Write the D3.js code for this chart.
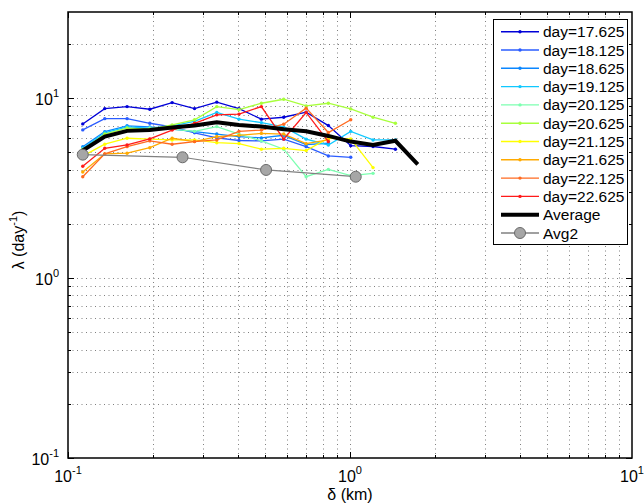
<!DOCTYPE html>
<html>
<head>
<meta charset="utf-8">
<title>lambda vs delta</title>
<script src="https://d3js.org/d3.v7.min.js"></script>
<style>
  body { margin: 0; background: #fff; }
  text { font-family: "Liberation Sans", Arial, sans-serif; }
</style>
</head>
<body>
<script>
// separations (km) shared by the daily curves
var deltas = [0.1128, 0.135, 0.162, 0.195, 0.234, 0.281, 0.337, 0.404,
              0.485, 0.582, 0.699, 0.838, 1.006, 1.207, 1.449, 1.739];

var days = ["day=17.625", "day=18.125", "day=18.625", "day=19.125", "day=20.125",
            "day=20.625", "day=21.125", "day=21.625", "day=22.125", "day=22.625"];
var dayColors = ["#0000d8", "#2a5cff", "#0a86ff", "#10c8ff", "#7cffb0",
                 "#a8ff3c", "#ffff00", "#ffaa00", "#ff6a20", "#ff1a1a"];

var d17_625 = [7.17, 8.72, 8.95, 8.65, 9.42, 8.72, 9.47, 8.72, 7.62, 7.81, 8.33, 7.02, 5.43, 5.37, 5.19];
var d18_125 = [6.64, 7.67, 7.67, 7.23, 6.90, 6.40, 6.00, 5.80, 5.77, 5.90, 5.36, 4.76, 4.68];
var d18_625 = [5.35, 6.50, 7.00, 6.90, 6.70, 6.50, 6.30, 6.10, 6.00, 6.20, 5.50, 5.60];
var d19_125 = [5.25, 6.40, 6.90, 6.80, 7.00, 7.40, 8.30, 7.62, 7.29, 6.90, 5.90, 5.48, 6.52, 5.84, 5.84];
var d20_125 = [5.20, 6.20, 6.60, 6.80, 6.70, 6.52, 6.93, 6.30, 5.77, 5.19, 3.65, 4.01, 3.70, 3.81];
var d20_625 = [5.15, 6.30, 6.80, 6.70, 7.08, 7.56, 8.95, 8.60, 9.34, 9.83, 9.03, 9.34, 8.69, 7.81, 7.23];
var d21_125 = [4.75, 5.53, 5.97, 5.90, 5.84, 5.84, 5.64, 5.58, 5.19, 5.25, 5.10, 5.97, 5.92, 4.10];
var d21_625 = [3.88, 4.89, 4.93, 5.29, 5.97, 5.72, 6.10, 6.20, 6.35, 6.30, 5.57, 5.84];
var d22_125 = [3.65, 4.89, 5.36, 5.77, 5.53, 5.72, 5.84, 6.52, 6.63, 7.14, 8.77, 6.42, 7.56];
var d22_625 = [4.17, 5.25, 5.48, 5.92, 6.63, 7.23, 8.05, 8.13, 8.95, 5.90, 8.30, 5.72];
var daySeries = [d17_625, d18_125, d18_625, d19_125, d20_125, d20_625, d21_125, d21_625, d22_125, d22_625];

var average = [5.10, 6.10, 6.56, 6.63, 6.84, 7.03, 7.33, 7.08, 6.93, 6.70, 6.52, 6.15, 5.72, 5.48, 5.78, 4.28];

var avg2X = [0.1128, 0.2547, 0.504, 1.048];
var avg2Y = [4.84, 4.68, 3.98, 3.65];

var xTicks = [0.1, 1, 10], xTickExp = ["-1", "0", "1"];
var yTicks = [0.1, 1, 10], yTickExp = ["-1", "0", "1"];

var W = 644, H = 503;
var pL = 68, pR = 632, pT = 12, pB = 458;

var x = d3.scaleLog().domain([0.1, 10]).range([pL, pR]);
var y = d3.scaleLog().domain([0.1, 30]).range([pB, pT]);

var svg = d3.select("body").append("svg")
  .attr("width", W).attr("height", H);

// minor + major grid values
var xGrid = [], yGrid = [];
[0.1, 1].forEach(function(b){ for (var k = 1; k <= 9; k++) if (b*k > 0.1) xGrid.push(b*k); });
[0.1, 1, 10].forEach(function(b){ for (var k = 1; k <= 9; k++) if (b*k > 0.1 && b*k < 30) yGrid.push(b*k); });

var grid = svg.append("g").attr("stroke", "#808080").attr("stroke-width", 1)
  .attr("stroke-dasharray", "1,3.5");
grid.selectAll("line.gx").data(xGrid).enter().append("line")
  .attr("x1", function(d){ return Math.round(x(d)) + 0.5; })
  .attr("x2", function(d){ return Math.round(x(d)) + 0.5; })
  .attr("y1", pT).attr("y2", pB);
grid.selectAll("line.gy").data(yGrid).enter().append("line")
  .attr("y1", function(d){ return Math.round(y(d)) + 0.5; })
  .attr("y2", function(d){ return Math.round(y(d)) + 0.5; })
  .attr("x1", pL).attr("x2", pR);

function isMajor(d){
  return [0.1, 1, 10].some(function(m){ return Math.abs(d - m) < 1e-9; });
}

// inward ticks on all sides
var tk = svg.append("g").attr("stroke", "#000").attr("stroke-width", 1);
xGrid.concat([0.1]).forEach(function(d){
  var len = isMajor(d) ? 6 : 3;
  var px = Math.round(x(d)) + 0.5;
  tk.append("line").attr("x1", px).attr("x2", px).attr("y1", pB).attr("y2", pB - len);
  tk.append("line").attr("x1", px).attr("x2", px).attr("y1", pT).attr("y2", pT + len);
});
yGrid.concat([0.1]).forEach(function(d){
  var len = isMajor(d) ? 6 : 3;
  var py = Math.round(y(d)) + 0.5;
  tk.append("line").attr("y1", py).attr("y2", py).attr("x1", pL).attr("x2", pL + len);
  tk.append("line").attr("y1", py).attr("y2", py).attr("x1", pR).attr("x2", pR - len);
});

// daily curves
var line = d3.line()
  .x(function(d, i){ return x(deltas[i]); })
  .y(function(d){ return y(d); });

daySeries.forEach(function(s, k){
  svg.append("path").datum(s)
    .attr("d", line)
    .attr("fill", "none")
    .attr("stroke", dayColors[k])
    .attr("stroke-width", 1.3);
  svg.selectAll("circle.m" + k).data(s).enter().append("circle")
    .attr("class", "m" + k)
    .attr("cx", function(d, i){ return x(deltas[i]); })
    .attr("cy", function(d){ return y(d); })
    .attr("r", 1.7)
    .attr("fill", dayColors[k]);
});

svg.append("path").datum(average)
  .attr("d", line)
  .attr("fill", "none")
  .attr("stroke", "#000")
  .attr("stroke-width", 4);

var avg2 = avg2X.map(function(v, i){ return [v, avg2Y[i]]; });
svg.append("path").datum(avg2)
  .attr("d", d3.line().x(function(d){ return x(d[0]); }).y(function(d){ return y(d[1]); }))
  .attr("fill", "none").attr("stroke", "#808080").attr("stroke-width", 1.2);
svg.selectAll("circle.avg2").data(avg2).enter().append("circle")
  .attr("class", "avg2")
  .attr("cx", function(d){ return x(d[0]); })
  .attr("cy", function(d){ return y(d[1]); })
  .attr("r", 5.5)
  .attr("fill", "#a6a6a6").attr("stroke", "#6a6a6a").attr("stroke-width", 1);

// axes box
svg.append("rect").attr("x", pL).attr("y", pT)
  .attr("width", pR - pL).attr("height", pB - pT)
  .attr("fill", "none").attr("stroke", "#000").attr("stroke-width", 1.5);

// tick labels
xTicks.forEach(function(d, i){
  var t = svg.append("text").attr("x", x(d)).attr("y", 482)
    .attr("text-anchor", "middle").attr("font-size", 16);
  t.append("tspan").text("10");
  t.append("tspan").attr("dy", -8).attr("font-size", 11).text(xTickExp[i]);
});
yTicks.forEach(function(d, i){
  var t = svg.append("text").attr("x", 59).attr("y", y(d) + 7)
    .attr("text-anchor", "end").attr("font-size", 16);
  t.append("tspan").text("10");
  t.append("tspan").attr("dy", -8).attr("font-size", 11).text(yTickExp[i]);
});

// axis labels
svg.append("text").attr("x", 350).attr("y", 500)
  .attr("text-anchor", "middle").attr("font-size", 16).text("δ (km)");
var yl = svg.append("text")
  .attr("transform", "translate(24,240) rotate(-90)")
  .attr("text-anchor", "middle").attr("font-size", 16);
yl.append("tspan").text("λ (day");
yl.append("tspan").attr("dy", -7).attr("font-size", 11).text("-1");
yl.append("tspan").attr("dy", 7).text(")");

// legend
var lg = svg.append("g");
lg.append("rect").attr("x", 493.5).attr("y", 19.5).attr("width", 134).attr("height", 225)
  .attr("fill", "#fff").attr("stroke", "#000").attr("stroke-width", 1);
var entries = days.map(function(d, i){ return {name: d, color: dayColors[i], kind: "day"}; });
entries.push({name: "Average", color: "#000", kind: "avg"});
entries.push({name: "Avg2", color: "#808080", kind: "avg2"});
entries.forEach(function(e, i){
  var cy = 31.7 + i * 18.3;
  lg.append("line").attr("x1", 501).attr("x2", 539).attr("y1", cy).attr("y2", cy)
    .attr("stroke", e.color)
    .attr("stroke-width", e.kind == "avg" ? 4 : 1.4);
  if (e.kind == "day") {
    lg.append("circle").attr("cx", 520).attr("cy", cy).attr("r", 1.7).attr("fill", e.color);
  } else if (e.kind == "avg2") {
    lg.append("circle").attr("cx", 520).attr("cy", cy).attr("r", 5.5)
      .attr("fill", "#a6a6a6").attr("stroke", "#6a6a6a");
  }
  lg.append("text").attr("x", 543).attr("y", cy + 5.5).attr("font-size", 15.5).text(e.name);
});
</script>
</body>
</html>
